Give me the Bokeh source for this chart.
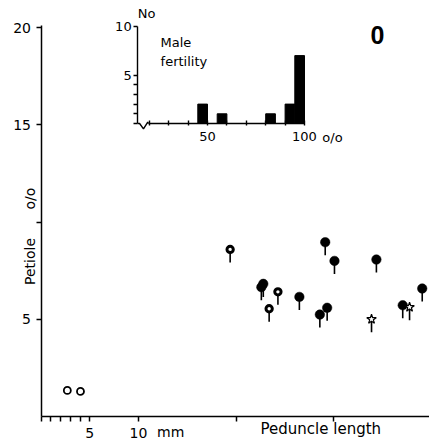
import numpy as np
from bokeh.plotting import figure
from bokeh.models import FixedTicker, Range1d, Label, LinearAxis
from bokeh.embed import file_html
from bokeh.resources import INLINE

# ---------------- main scatter data (peduncle length mm, petiole %) ----------------
filled_x = [29.15, 30.1, 34.4, 22.8, 22.6, 26.5, 29.35, 28.6, 37.1, 39.1]
filled_y = [8.96, 8.0, 8.07, 6.82, 6.65, 6.15, 5.59, 5.24, 5.72, 6.58]
open_x = [19.4, 24.3, 23.4]
open_y = [8.59, 6.41, 5.54]
star_x = [33.9, 37.8]
star_y = [5.0, 5.62]
ring_x = [2.7, 4.05]
ring_y = [1.34, 1.29]

x_ticks = [0, 1, 2, 3, 4, 5, 10, 20, 30]
x_tick_labels = {5: "5", 10: "10"}
y_ticks = [5, 10, 15, 20]
y_tick_labels = {5: "5", 15: "15", 20: "20"}

# ---------------- inset histogram (male fertility %) ----------------
fert_lo = [45, 55, 80, 90, 95]
fert_hi = [50, 60, 85, 95, 100]
fert_count = [2, 1, 1, 2, 7]
fert_ticks = [20, 30, 40, 50, 60, 70, 80, 90, 100]
fert_tick_labels = {50: "50", 100: "100"}
count_ticks = [0, 1, 2, 3, 4, 5, 10]
count_tick_labels = {5: "5", 10: "10"}

FONT = "DejaVu Sans"
W, H = 429, 447

# frame covers the whole canvas; axes are drawn at fixed locations
p = figure(width=W, height=H,
           x_range=Range1d(-40.5 / 9.75, (W - 40.5) / 9.75),
           y_range=Range1d(-(H - 416) / 19.45, 416 / 19.45),
           x_axis_type=None, y_axis_type=None,
           output_backend="svg", toolbar_location=None,
           min_border_left=0, min_border_right=0, min_border_top=0, min_border_bottom=0)
p.outline_line_color = None
p.background_fill_color = "white"
p.border_fill_color = "white"

p.extra_x_ranges = {"fert": Range1d(-110 / 1.94, (W - 110) / 1.94)}
p.extra_y_ranges = {"cnt": Range1d(-(H - 123) / 9.7, 123 / 9.7)}
R = dict(x_range_name="fert", y_range_name="cnt")


def style_axis(ax, tick_out, standoff, size="14px", lw=1.5):
    ax.axis_line_width = lw
    ax.axis_line_color = "black"
    ax.major_tick_line_width = lw
    ax.major_tick_line_color = "black"
    ax.major_tick_in = 0
    ax.major_tick_out = tick_out
    ax.minor_tick_line_color = None
    ax.major_label_text_font = FONT
    ax.major_label_text_font_size = size
    ax.major_label_text_color = "black"
    ax.major_label_standoff = standoff


# main axes
xax = LinearAxis(fixed_location=0, bounds=(0, 39.9),
                 ticker=FixedTicker(ticks=x_ticks, minor_ticks=[]),
                 major_label_overrides={t: x_tick_labels.get(t, "") for t in x_ticks})
style_axis(xax, 5, 6)
p.add_layout(xax, "below")
yax = LinearAxis(fixed_location=0, bounds=(0, 20.1),
                 ticker=FixedTicker(ticks=y_ticks, minor_ticks=[]),
                 major_label_overrides={t: y_tick_labels.get(t, "") for t in y_ticks})
style_axis(yax, 5, 5)
p.add_layout(yax, "left")

# ---------------- pins: stems then heads ----------------
STEM = 0.67
for xs, ys in ((filled_x, filled_y), (open_x, open_y), (star_x, star_y)):
    xa = np.array(xs); ya = np.array(ys)
    p.segment(x0=xa, y0=ya, x1=xa, y1=ya - STEM, line_color="black", line_width=1.6)

p.scatter(filled_x, filled_y, marker="circle", size=9.5, fill_color="black", line_color="black", line_width=0.5)
p.scatter(open_x, open_y, marker="circle", size=6.3, fill_color="white", line_color="black", line_width=3)
p.scatter(star_x, star_y, marker="star", size=10, fill_color="white", line_color="black", line_width=1.2)
p.scatter(ring_x, ring_y, marker="circle", size=7, fill_color=None, line_color="black", line_width=1.8)

# ---------------- inset ----------------
AX0 = 14.0      # inset axis origin (%), left of the broken part
BRK = 19.5      # end of the axis break

p.quad(left=fert_lo, right=fert_hi, bottom=0, top=fert_count,
       fill_color="black", line_color="black", line_width=1, **R)

iy = LinearAxis(fixed_location=AX0, bounds=(0, max(count_ticks)),
                ticker=FixedTicker(ticks=count_ticks, minor_ticks=[]),
                major_label_overrides={t: count_tick_labels.get(t, "") for t in count_ticks}, **R)
style_axis(iy, 4, 2, size="13px", lw=1.4)
p.add_layout(iy, "left")

ix = LinearAxis(fixed_location=0, bounds=(BRK, max(fert_ticks)),
                ticker=FixedTicker(ticks=fert_ticks, minor_ticks=[]),
                major_label_overrides={t: fert_tick_labels.get(t, "") for t in fert_ticks}, **R)
style_axis(ix, 2, 6, size="13px", lw=1.4)
ix.major_tick_in = 3
p.add_layout(ix, "below")

# axis break (zig-zag) between the inset origin and the scale
p.line(x=[AX0, AX0 + 1.0, AX0 + 3.0, BRK - 0.3, BRK],
       y=[0, 0, -0.55, 0.15, 0], line_color="black", line_width=1.4, **R)


def lab(x, y, text, align="center", baseline="middle", size="14px", angle=0, bold=False, font=FONT, **kw):
    p.add_layout(Label(x=x, y=y, text=text, text_align=align, text_baseline=baseline,
                       text_font_size=size, text_font=font, angle=angle,
                       text_font_style="bold" if bold else "normal", text_color="black", **kw))


lab(114.4, -1.45, "o/o", size="13px", **R)
lab(AX0, 11.34, "No", align="left", size="13px", **R)
lab(25.8, 8.35, "Male", align="left", size="13px", **R)
lab(25.8, 6.39, "fertility", align="left", size="13px", **R)

# ---------------- main texts ----------------
lab(-1.13, 7.97, "Petiole", angle=np.pi / 2, size="14px")
lab(-1.13, 11.2, "o/o", angle=np.pi / 2, size="14px")
lab(28.7, -0.64, "Peduncle length", size="15px")
lab(13.3, -0.82, "mm", size="14px")
lab(34.5, 19.6, "0", size="25px", bold=True, font="Liberation Sans")

open("out.html", "w").write(file_html(p, INLINE))
